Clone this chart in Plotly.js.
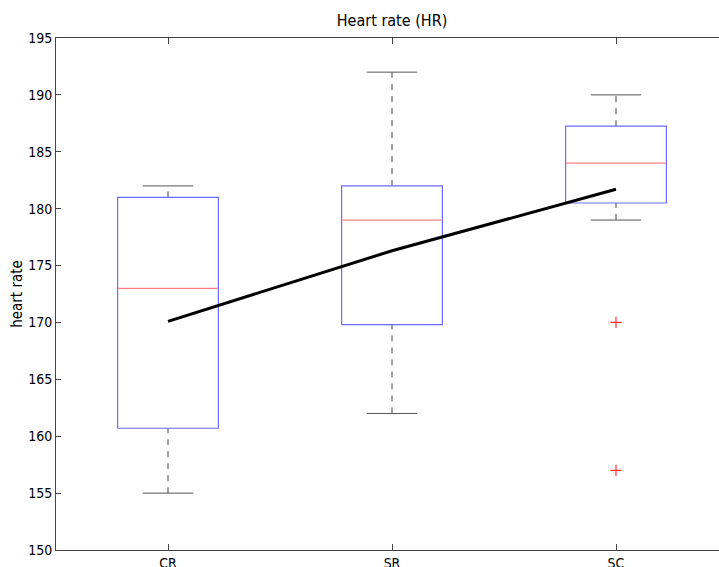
<!DOCTYPE html>
<html><head><meta charset="utf-8">
<script src="https://cdn.plot.ly/plotly-3.0.1.min.js"></script>
<style>html,body{margin:0;padding:0;overflow:hidden;background:#fff;}#chart{width:740px;height:580px;}</style>
</head><body><div id="chart"></div>
<script>
// Data
const categories = ["CR", "SR", "SC"];
const lowerWhisker = [155, 162, 179];
const q1 = [160.7, 169.8, 180.5];
const median = [173, 179, 184];
const q3 = [181, 182, 187.25];
const upperWhisker = [182, 192, 190];
const outlierCat = ["SC", "SC"];
const outlierVal = [170, 157];
const meanVal = [170.1, 176.3, 181.7];

// Styling
const boxHalf = 0.225, capHalf = 0.1125;
const pos = c => categories.indexOf(c) + 1;

const boxX = [], boxY = [], medX = [], medY = [], whX = [], whY = [], capX = [], capY = [];
categories.forEach((c, i) => {
  const p = i + 1;
  boxX.push(p - boxHalf, p + boxHalf, p + boxHalf, p - boxHalf, p - boxHalf, null);
  boxY.push(q1[i], q1[i], q3[i], q3[i], q1[i], null);
  medX.push(p - boxHalf, p + boxHalf, null);
  medY.push(median[i], median[i], null);
  whX.push(p, p, null, p, p, null);
  whY.push(lowerWhisker[i], q1[i], null, q3[i], upperWhisker[i], null);
  capX.push(p - capHalf, p + capHalf, null, p - capHalf, p + capHalf, null);
  capY.push(lowerWhisker[i], lowerWhisker[i], null, upperWhisker[i], upperWhisker[i], null);
});

const traces = [
  {x: whX, y: whY, mode: 'lines', line: {color: '#444', width: 1, dash: '6px,6px'}, hoverinfo: 'skip'},
  {x: capX, y: capY, mode: 'lines', line: {color: '#555', width: 1}, hoverinfo: 'skip'},
  {x: boxX, y: boxY, mode: 'lines', line: {color: '#6a6aff', width: 1.2}, hoverinfo: 'skip'},
  {x: medX, y: medY, mode: 'lines', line: {color: '#ff8080', width: 1.2}, hoverinfo: 'skip'},
  {x: outlierCat.map(pos), y: outlierVal, mode: 'markers', marker: {symbol: 'cross-thin', size: 8, line: {color: '#ff3333', width: 1.2}}, hoverinfo: 'skip'},
  {x: categories.map(pos), y: meanVal, mode: 'lines', line: {color: '#000', width: 3}, hoverinfo: 'skip'}
];

const fam = '"DejaVu Sans Condensed", "DejaVu Sans", sans-serif';
const tickFont = {family: fam, size: 14, color: '#000'};
const layout = {
  width: 740, height: 580,
  margin: {l: 56, r: 12, t: 38, b: 30},
  paper_bgcolor: '#fff', plot_bgcolor: '#fff',
  showlegend: false,
  font: tickFont,
  title: {text: 'Heart rate (HR)', x: 0.5, xref: 'paper', y: 1 - 20/580, yanchor: 'middle', font: {family: fam, size: 16, color: '#000'}},
  xaxis: {
    range: [0.5, 3.5], tickvals: [1, 2, 3], ticktext: categories,
    showgrid: false, zeroline: false, showline: true, linecolor: '#444', linewidth: 1, mirror: 'ticks',
    ticks: 'inside', ticklen: 6, tickcolor: '#444', tickfont: tickFont
  },
  yaxis: {
    range: [150, 195], dtick: 5, tick0: 150,
    showgrid: false, zeroline: false, showline: true, linecolor: '#444', linewidth: 1, mirror: 'ticks',
    ticks: 'inside', ticklen: 5, tickcolor: '#444', tickfont: tickFont,
    title: {text: 'heart rate', font: {family: fam, size: 15, color: '#000'}, standoff: 1}
  }
};
Plotly.newPlot('chart', traces, layout, {staticPlot: true, displayModeBar: false});
</script></body></html>
